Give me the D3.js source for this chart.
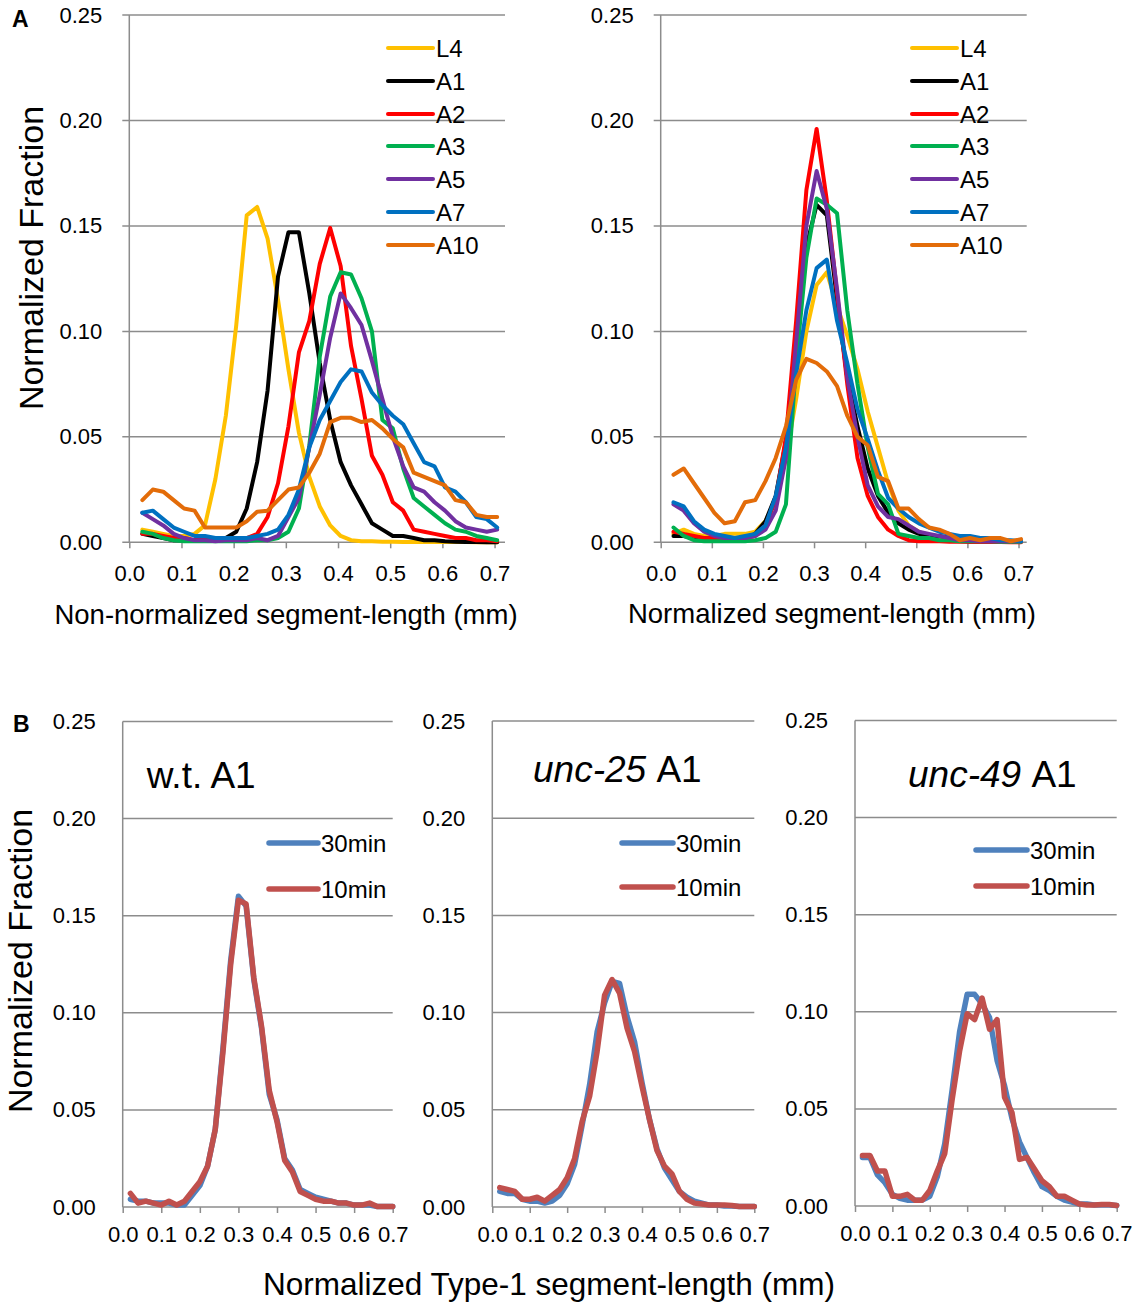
<!DOCTYPE html>
<html>
<head>
<meta charset="utf-8">
<script src="https://cdn.jsdelivr.net/npm/d3@7"></script>
<style>
body { margin: 0; background: #fff; }
svg { display: block; font-family: "Liberation Sans", Arial, sans-serif; }
</style>
</head>
<body>
<script>
// ---- data ----
const yTicks = [0, 0.05, 0.10, 0.15, 0.20, 0.25]
const xTicks = [0, 0.1, 0.2, 0.3, 0.4, 0.5, 0.6, 0.7]

// bin centres (mm)
const binsA = [0.025, 0.045, 0.065, 0.085, 0.105, 0.125, 0.145, 0.165, 0.185, 0.205, 0.225, 0.245,
  0.265, 0.285, 0.305, 0.325, 0.345, 0.365, 0.385, 0.405, 0.425, 0.445, 0.465, 0.485, 0.505, 0.525,
  0.545, 0.565, 0.585, 0.605, 0.625, 0.645, 0.665, 0.685, 0.705]
const binsB = [0.02, 0.04, 0.06, 0.08, 0.10, 0.12, 0.14, 0.16, 0.18, 0.20, 0.22, 0.24, 0.26, 0.28,
  0.30, 0.32, 0.34, 0.36, 0.38, 0.40, 0.42, 0.44, 0.46, 0.48, 0.50, 0.52, 0.54, 0.56, 0.58, 0.60,
  0.62, 0.64, 0.66, 0.68, 0.70]

const stagesA = ["L4", "A1", "A2", "A3", "A5", "A7", "A10"]
const stageColors = ["#FFC000", "#000000", "#FF0000", "#00B050", "#7030A0", "#0070C0", "#E36C09"]

// A, non-normalized
const rawL4 = [0.006, 0.005, 0.004, 0.003, 0.003, 0.004, 0.008, 0.030, 0.060, 0.103, 0.155, 0.159, 0.144, 0.115, 0.082, 0.052, 0.031, 0.017, 0.008, 0.003, 0.001, 0.0005, 0.0005, 0.0003, 0.0003, 0.0002, 0.0002, 0.0002, 0.0001, 0.0001, 0.0001, 0.0001, 0, 0, 0]
const rawA1 = [0.004, 0.003, 0.002, 0.001, 0.001, 0.001, 0.001, 0.001, 0.002, 0.005, 0.016, 0.038, 0.072, 0.126, 0.147, 0.147, 0.118, 0.085, 0.058, 0.038, 0.027, 0.018, 0.009, 0.006, 0.003, 0.003, 0.002, 0.001, 0.001, 0.0005, 0.0003, 0.0002, 0.0001, 0, 0]
const rawA2 = [0.004, 0.004, 0.003, 0.002, 0.002, 0.001, 0.001, 0.001, 0.001, 0.001, 0.002, 0.004, 0.012, 0.028, 0.055, 0.090, 0.105, 0.132, 0.149, 0.131, 0.093, 0.068, 0.041, 0.032, 0.019, 0.015, 0.006, 0.005, 0.004, 0.003, 0.002, 0.002, 0.001, 0.001, 0.0005]
const rawA3 = [0.005, 0.004, 0.002, 0.001, 0.0005, 0.0005, 0.0005, 0.0005, 0.0005, 0.0005, 0.0005, 0.001, 0.001, 0.002, 0.005, 0.016, 0.046, 0.088, 0.1165, 0.128, 0.127, 0.1157, 0.100, 0.058, 0.054, 0.035, 0.021, 0.017, 0.013, 0.009, 0.006, 0.005, 0.003, 0.002, 0.001]
const rawA5 = [0.014, 0.011, 0.008, 0.004, 0.002, 0.001, 0.001, 0.0005, 0.001, 0.001, 0.001, 0.002, 0.001, 0.003, 0.012, 0.021, 0.045, 0.070, 0.097, 0.118, 0.111, 0.103, 0.086, 0.068, 0.050, 0.036, 0.026, 0.024, 0.019, 0.015, 0.010, 0.007, 0.006, 0.005, 0.006]
const rawA7 = [0.014, 0.015, 0.011, 0.007, 0.005, 0.003, 0.003, 0.002, 0.002, 0.002, 0.002, 0.003, 0.004, 0.006, 0.013, 0.025, 0.045, 0.058, 0.067, 0.076, 0.082, 0.081, 0.071, 0.065, 0.060, 0.056, 0.047, 0.038, 0.036, 0.026, 0.024, 0.019, 0.012, 0.011, 0.007]
const rawA10 = [0.020, 0.025, 0.024, 0.020, 0.016, 0.015, 0.007, 0.007, 0.007, 0.007, 0.010, 0.0145, 0.015, 0.020, 0.025, 0.026, 0.033, 0.042, 0.057, 0.059, 0.059, 0.057, 0.058, 0.054, 0.049, 0.045, 0.033, 0.031, 0.029, 0.027, 0.020, 0.019, 0.013, 0.012, 0.012]

// A, normalized
const normL4 = [0.004, 0.006, 0.004, 0.003, 0.003, 0.004, 0.004, 0.004, 0.005, 0.010, 0.020, 0.040, 0.068, 0.100, 0.122, 0.128, 0.112, 0.098, 0.082, 0.062, 0.045, 0.028, 0.015, 0.008, 0.005, 0.003, 0.002, 0.001, 0.001, 0.0005, 0.0005, 0.0005, 0.0005, 0.0005, 0.0005]
const normA1 = [0.003, 0.003, 0.002, 0.002, 0.002, 0.002, 0.002, 0.002, 0.004, 0.010, 0.022, 0.048, 0.095, 0.140, 0.160, 0.155, 0.115, 0.078, 0.055, 0.035, 0.022, 0.014, 0.009, 0.006, 0.004, 0.003, 0.003, 0.002, 0.001, 0.001, 0.0005, 0.0005, 0.0005, 0.0005, 0.0005]
const normA2 = [0.005, 0.004, 0.003, 0.002, 0.002, 0.002, 0.002, 0.002, 0.003, 0.008, 0.020, 0.050, 0.105, 0.167, 0.196, 0.162, 0.118, 0.075, 0.040, 0.022, 0.012, 0.006, 0.003, 0.001, 0.0005, 0.0005, 0.0005, 0.0003, 0.0003, 0.0002, 0.0002, 0.0001, 0.0001, 0, 0]
const normA3 = [0.007, 0.003, 0.001, 0.0005, 0.0005, 0.0005, 0.0005, 0.0005, 0.001, 0.002, 0.005, 0.018, 0.085, 0.135, 0.163, 0.160, 0.156, 0.110, 0.075, 0.045, 0.023, 0.018, 0.004, 0.003, 0.002, 0.002, 0.001, 0.001, 0.0005, 0.0005, 0.0005, 0.0005, 0.0003, 0.0003, 0.0003]
const normA5 = [0.018, 0.015, 0.009, 0.005, 0.003, 0.002, 0.002, 0.002, 0.003, 0.006, 0.015, 0.040, 0.095, 0.150, 0.176, 0.158, 0.120, 0.078, 0.050, 0.027, 0.017, 0.012, 0.011, 0.008, 0.005, 0.004, 0.003, 0.002, 0.001, 0.001, 0.0005, 0.0005, 0.0005, 0.0005, 0.0005]
const normA7 = [0.019, 0.017, 0.010, 0.006, 0.004, 0.003, 0.002, 0.003, 0.004, 0.008, 0.022, 0.045, 0.080, 0.110, 0.130, 0.134, 0.105, 0.085, 0.063, 0.049, 0.034, 0.021, 0.016, 0.012, 0.009, 0.007, 0.005, 0.004, 0.003, 0.003, 0.002, 0.002, 0.001, 0.001, 0.0005]
const normA10 = [0.032, 0.035, 0.028, 0.021, 0.014, 0.009, 0.010, 0.019, 0.020, 0.029, 0.040, 0.055, 0.077, 0.087, 0.085, 0.081, 0.074, 0.060, 0.050, 0.046, 0.031, 0.029, 0.016, 0.016, 0.011, 0.007, 0.006, 0.004, 0.001, 0.002, 0.001, 0.002, 0.002, 0.0005, 0.0015]

// B, normalized Type-1 segments, 30 min vs 10 min
const timeNames = ["30min", "10min"]
const timeColors = ["#4F81BD", "#C0504D"]
const wt30 = [0.004, 0.003, 0.003, 0.002, 0.002, 0.002, 0.001, 0.001, 0.006, 0.011, 0.021, 0.040, 0.082, 0.127, 0.160, 0.155, 0.117, 0.092, 0.058, 0.045, 0.025, 0.019, 0.009, 0.007, 0.005, 0.004, 0.003, 0.002, 0.002, 0.001, 0.001, 0.001, 0.0003, 0.0003, 0.0003]
const wt10 = [0.007, 0.002, 0.003, 0.002, 0.001, 0.003, 0.001, 0.003, 0.008, 0.013, 0.021, 0.040, 0.080, 0.125, 0.158, 0.156, 0.118, 0.093, 0.060, 0.044, 0.024, 0.018, 0.008, 0.006, 0.004, 0.003, 0.003, 0.002, 0.002, 0.001, 0.001, 0.002, 0.0003, 0.0003, 0.0003]
const unc25_30 = [0.008, 0.007, 0.007, 0.004, 0.003, 0.003, 0.002, 0.003, 0.006, 0.012, 0.022, 0.042, 0.063, 0.090, 0.105, 0.116, 0.115, 0.098, 0.085, 0.064, 0.045, 0.030, 0.020, 0.014, 0.008, 0.005, 0.003, 0.002, 0.001, 0.001, 0.0005, 0.0005, 0.0003, 0.0002, 0.0002]
const unc25_10 = [0.010, 0.009, 0.008, 0.004, 0.004, 0.005, 0.003, 0.006, 0.009, 0.015, 0.025, 0.044, 0.057, 0.080, 0.109, 0.117, 0.110, 0.092, 0.080, 0.062, 0.045, 0.029, 0.021, 0.017, 0.008, 0.004, 0.002, 0.0015, 0.001, 0.001, 0.001, 0.0008, 0.0003, 0.0002, 0.0002]
const unc49_30 = [0.025, 0.025, 0.016, 0.012, 0.006, 0.004, 0.003, 0.003, 0.003, 0.005, 0.015, 0.032, 0.060, 0.090, 0.109, 0.109, 0.104, 0.097, 0.075, 0.062, 0.045, 0.033, 0.025, 0.017, 0.010, 0.008, 0.005, 0.003, 0.002, 0.001, 0.001, 0.0005, 0.0005, 0.0005, 0.0003]
const unc49_10 = [0.026, 0.026, 0.018, 0.018, 0.005, 0.005, 0.006, 0.003, 0.003, 0.008, 0.018, 0.027, 0.055, 0.080, 0.099, 0.096, 0.107, 0.091, 0.096, 0.056, 0.048, 0.024, 0.025, 0.019, 0.013, 0.010, 0.005, 0.005, 0.003, 0.001, 0.0005, 0.0005, 0.0008, 0.0008, 0.0003]

// ---- drawing ----
const width = 1134, height = 1308
const gridColor = "#8c8c8c"
const svg = d3.select("body").append("svg")
    .attr("width", width)
    .attr("height", height)

function drawPanel(p) {
    const x = d3.scaleLinear().domain([0, p.xMax]).range([p.x0, p.x1])
    const y = d3.scaleLinear().domain([0, 0.25]).range([p.y0, p.y1])
    const g = svg.append("g")

    // gridlines (Excel style, with a short stub left of the axis in panel A)
    g.selectAll(".grid").data(yTicks).enter().append("line")
        .attr("x1", p.x0 - p.stub).attr("x2", p.x1)
        .attr("y1", d => y(d)).attr("y2", d => y(d))
        .attr("stroke", gridColor).attr("stroke-width", 1.5)

    // y axis line
    g.append("line")
        .attr("x1", p.x0).attr("x2", p.x0)
        .attr("y1", y(0.25)).attr("y2", y(0))
        .attr("stroke", gridColor).attr("stroke-width", 1.5)

    // y tick labels
    const yAxis = g.append("g")
        .attr("transform", `translate(${p.x0},0)`)
        .call(d3.axisLeft(y).tickValues(yTicks).tickSize(0).tickPadding(27).tickFormat(d3.format(".2f")))
    yAxis.select(".domain").remove()
    yAxis.selectAll("text").attr("font-size", 22).attr("font-family", null).attr("fill", "#000")

    // x axis ticks + labels
    const xAxis = g.append("g")
        .attr("transform", `translate(0,${p.y0})`)
        .call(d3.axisBottom(x).tickValues(xTicks).tickSize(6).tickSizeOuter(0).tickPadding(p.xPad).tickFormat(d3.format(".1f")))
    xAxis.select(".domain").remove()
    xAxis.selectAll("line").attr("stroke", gridColor).attr("stroke-width", 1.5)
    xAxis.selectAll("text").attr("font-size", 22).attr("font-family", null).attr("fill", "#000")

    // series
    const line = d3.line().x((d, i) => x(p.bins[i])).y(d => y(d))
    g.selectAll(".series").data(p.series).enter().append("path")
        .attr("d", d => line(d))
        .attr("fill", "none")
        .attr("stroke", (d, i) => p.colors[i])
        .attr("stroke-width", p.lw)
        .attr("stroke-linejoin", "round")
        .attr("stroke-linecap", "round")

    // legend
    const leg = g.selectAll(".leg").data(p.names).enter().append("g")
        .attr("transform", (d, i) => `translate(0,${p.leg.y[i]})`)
    leg.append("line")
        .attr("x1", p.leg.x1).attr("x2", p.leg.x2)
        .attr("stroke", (d, i) => p.colors[i])
        .attr("stroke-width", p.lw)
        .attr("stroke-linecap", "round")
    leg.append("text")
        .attr("x", p.leg.tx).attr("dy", "0.36em")
        .attr("font-size", p.leg.fs)
        .text(d => d)

    if (p.title) {
        const t = g.append("text").attr("x", p.title.x).attr("y", p.title.y).attr("font-size", 37)
        if (p.title.italic) t.append("tspan").attr("font-style", "italic").text(p.title.italic + " ")
        t.append("tspan").text(p.title.rest)
    }
}

const legRowsA = [48, 81, 114, 146, 179, 212, 245]

drawPanel({
    x0: 129.3, x1: 505, xMax: 0.72, y0: 542.3, y1: 15, stub: 7, xPad: 16.8, lw: 4,
    bins: binsA, names: stagesA, colors: stageColors,
    series: [rawL4, rawA1, rawA2, rawA3, rawA5, rawA7, rawA10],
    leg: {x1: 388, x2: 433, tx: 436, y: legRowsA, fs: 24}
})
drawPanel({
    x0: 660.7, x1: 1026.7, xMax: 0.716, y0: 542.3, y1: 15, stub: 7, xPad: 16.8, lw: 4,
    bins: binsA, names: stagesA, colors: stageColors,
    series: [normL4, normA1, normA2, normA3, normA5, normA7, normA10],
    leg: {x1: 912, x2: 957, tx: 960, y: legRowsA, fs: 24}
})
drawPanel({
    x0: 122.7, x1: 392.7, xMax: 0.7, y0: 1207, y1: 721.5, stub: 0, xPad: 13.4, lw: 5.5,
    bins: binsB, names: timeNames, colors: timeColors,
    series: [wt30, wt10],
    leg: {x1: 269, x2: 318, tx: 321, y: [843, 889], fs: 24},
    title: {x: 146.7, y: 788, rest: "w.t. A1"}
})
drawPanel({
    x0: 492.3, x1: 754.3, xMax: 0.7, y0: 1207, y1: 721, stub: 0, xPad: 13.4, lw: 5.5,
    bins: binsB, names: timeNames, colors: timeColors,
    series: [unc25_30, unc25_10],
    leg: {x1: 622, x2: 673, tx: 676, y: [843, 887], fs: 24},
    title: {x: 533, y: 782, italic: "unc-25", rest: "A1"}
})
drawPanel({
    x0: 855, x1: 1116.7, xMax: 0.7, y0: 1206, y1: 720.5, stub: 0, xPad: 13.4, lw: 5.5,
    bins: binsB, names: timeNames, colors: timeColors,
    series: [unc49_30, unc49_10],
    leg: {x1: 976, x2: 1027, tx: 1030, y: [850, 886], fs: 24},
    title: {x: 908, y: 787, italic: "unc-49", rest: "A1"}
})

// axis titles and panel letters
svg.append("text").attr("transform", "translate(43,258) rotate(-90)")
    .attr("text-anchor", "middle").attr("font-size", 34).text("Normalized Fraction")
svg.append("text").attr("transform", "translate(32,961) rotate(-90)")
    .attr("text-anchor", "middle").attr("font-size", 34).text("Normalized Fraction")
svg.append("text").attr("x", 286).attr("y", 624).attr("text-anchor", "middle")
    .attr("font-size", 27.5).text("Non-normalized segment-length (mm)")
svg.append("text").attr("x", 832).attr("y", 623).attr("text-anchor", "middle")
    .attr("font-size", 27.5).text("Normalized segment-length (mm)")
svg.append("text").attr("x", 549).attr("y", 1295).attr("text-anchor", "middle")
    .attr("font-size", 31.5).text("Normalized Type-1 segment-length (mm)")
svg.append("text").attr("x", 12).attr("y", 27).attr("font-size", 23).attr("font-weight", "bold").text("A")
svg.append("text").attr("x", 13).attr("y", 732).attr("font-size", 23).attr("font-weight", "bold").text("B")
</script>
</body>
</html>
